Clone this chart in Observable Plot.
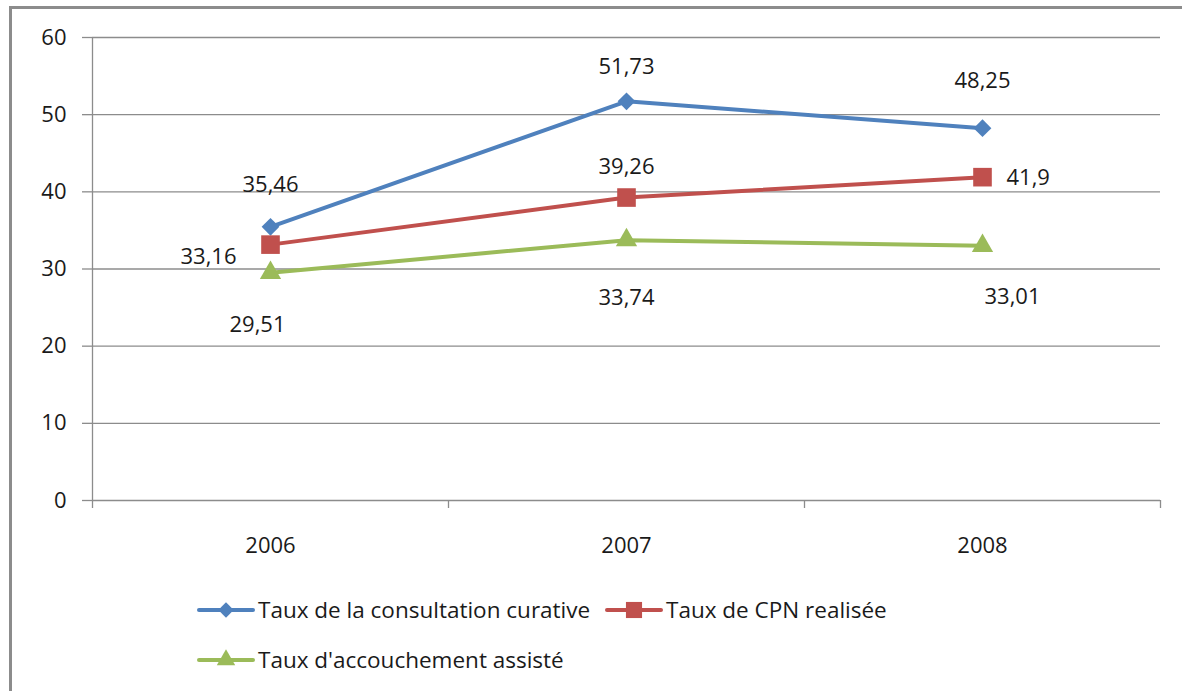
<!DOCTYPE html>
<html>
<head>
<meta charset="utf-8">
<script src="https://cdn.jsdelivr.net/npm/d3@7"></script>
<script src="https://cdn.jsdelivr.net/npm/@observablehq/plot@0.6"></script>
<style>
  html, body { margin: 0; padding: 0; background: #fff; }
  #wrap { position: relative; width: 1182px; height: 691px; overflow: hidden; font-family: "Open Sans", sans-serif; color: #1a1a1a; }
  #frame { position: absolute; left: 9px; top: 6px; width: 1200px; height: 720px; border: 3px solid #8c8c8c; box-sizing: border-box; }
  #chart { position: absolute; left: 0; top: 0; }
  .leg { position: absolute; display: flex; align-items: center; font-size: 22.5px; white-space: nowrap; }
  .leg svg { display: block; margin-right: 3px; }
</style>
</head>
<body>
<div id="wrap">
  <div id="frame"></div>
  <div id="chart"></div>
</div>
<script>
// ---- data ----
const years = [2006, 2007, 2008];
const seriesNames = ["Taux de la consultation curative", "Taux de CPN realisée", "Taux d'accouchement assisté"];
const consultation = [35.46, 51.73, 48.25];
const cpn = [33.16, 39.26, 41.9];
const accouchement = [29.51, 33.74, 33.01];
const yTicks = [0, 10, 20, 30, 40, 50, 60];

// ---- styles ----
const colors = ["#4F81BD", "#C0504D", "#9BBB59"];
const symbols = ["diamond2", "square", "triangle"];
const symbolR = [8, 10.5, 7.9];
const gridColor = "#8c8c8c";
const font = "Open Sans, sans-serif";
const fs = 22;

const seriesValues = [consultation, cpn, accouchement];
const data = [];
seriesNames.forEach((s, i) => years.forEach((yr, j) => data.push({series: s, si: i, year: yr, value: seriesValues[i][j]})));

const fmt = v => String(v).replace(".", ",");
const yearStep = years[1] - years[0];
const xDomain = [years[0] - yearStep / 2, years[years.length - 1] + yearStep / 2];
const boundaries = d3.range(years.length + 1).map(k => xDomain[0] + k * yearStep);

// label placement (Excel-style per-point offsets, in pixels)
const placement = [
  [{dx: 0, dy: -42}, {dx: 0, dy: -34}, {dx: 0, dy: -47}],
  [{dx: -62, dy: 12}, {dx: 0, dy: -31}, {dx: 24, dy: 1, anchor: "start"}],
  [{dx: -13, dy: 52}, {dx: 0, dy: 58}, {dx: 30, dy: 51}]
];

const labelMarks = data.map(d => {
  const p = placement[d.si][years.indexOf(d.year)];
  return Plot.text([d], {
    x: "year", y: "value", text: d => fmt(d.value),
    dx: p.dx, dy: p.dy, textAnchor: p.anchor || "middle", lineAnchor: "middle",
    fontSize: fs, fill: "#1a1a1a"
  });
});

const chart = Plot.plot({
  width: 1182,
  height: 570,
  marginTop: 37,
  marginBottom: 70,
  marginLeft: 92,
  marginRight: 22,
  style: {fontFamily: font, fontSize: fs + "px", color: "#1a1a1a", background: "transparent", overflow: "visible"},
  x: {type: "linear", domain: xDomain},
  y: {domain: [0, 60]},
  color: {domain: seriesNames, range: colors},
  symbol: {domain: seriesNames, range: symbols},
  marks: [
    Plot.gridY(yTicks, {stroke: gridColor, strokeOpacity: 1, strokeWidth: 1.3}),
    Plot.ruleX([xDomain[0]], {stroke: gridColor, strokeWidth: 1.3}),
    Plot.axisY(yTicks, {tickSize: 10, tickPadding: 16, stroke: gridColor, strokeWidth: 1.3, fontSize: fs, fill: "#1a1a1a", label: null}),
    Plot.axisX(boundaries, {tickSize: 8, tickFormat: () => "", stroke: gridColor, strokeWidth: 1.3, label: null}),
    Plot.axisX(years, {tickSize: 0, tickPadding: 37, tickFormat: d => String(d), fontSize: fs, fill: "#1a1a1a", label: null}),
    Plot.line(data, {x: "year", y: "value", z: "series", stroke: "series", strokeWidth: 4}),
    ...seriesNames.map((s, i) => Plot.dot(data.filter(d => d.si === i), {x: "year", y: "value", symbol: "series", fill: "series", r: symbolR[i], stroke: null})),
    ...labelMarks
  ]
});
document.getElementById("chart").appendChild(chart);

// ---- legend ----
function swatch(i) {
  const w = 58, h = 22;
  const svg = d3.create("svg").attr("width", w).attr("height", h);
  svg.append("line").attr("x1", 2).attr("x2", w - 2).attr("y1", h / 2).attr("y2", h / 2)
    .attr("stroke", colors[i]).attr("stroke-width", 4).attr("stroke-linecap", "round");
  const sym = {diamond2: d3.symbolDiamond2, square: d3.symbolSquare, triangle: d3.symbolTriangle}[symbols[i]];
  svg.append("path").attr("transform", `translate(${w / 2},${h / 2})`)
    .attr("d", d3.symbol(sym, Math.PI * symbolR[i] * symbolR[i] * 0.75)())
    .attr("fill", colors[i]);
  return svg.node();
}
const legendPos = [[197, 610], [605, 610], [197, 660]];
seriesNames.forEach((s, i) => {
  const div = document.createElement("div");
  div.className = "leg";
  div.style.left = legendPos[i][0] + "px";
  div.style.top = (legendPos[i][1] - 16) + "px";
  div.appendChild(swatch(i));
  const span = document.createElement("span");
  span.textContent = s;
  div.appendChild(span);
  document.getElementById("wrap").appendChild(div);
});
</script>
</body>
</html>
